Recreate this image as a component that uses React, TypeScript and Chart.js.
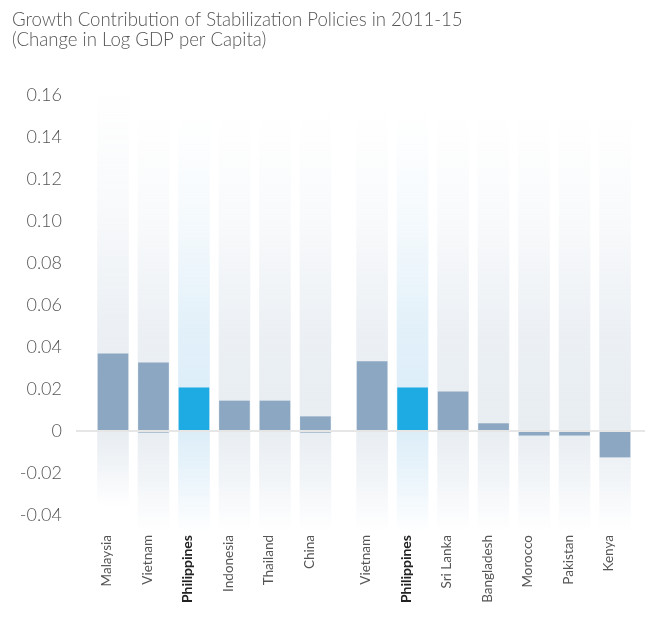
import { useEffect, useRef } from 'react';
import { Chart, registerables } from 'chart.js';

Chart.register(...registerables);

// ---- data ----
const categories = [
  'Malaysia', 'Vietnam', 'Philippines', 'Indonesia', 'Thailand', 'China',
  'Vietnam', 'Philippines', 'Sri Lanka', 'Bangladesh', 'Morocco', 'Pakistan', 'Kenya',
];
const groupOf = [0, 0, 0, 0, 0, 0, 1, 1, 1, 1, 1, 1, 1];
const values = [
  0.0368, 0.0325, 0.0205, 0.0143, 0.0143, 0.0068,
  0.033, 0.0205, 0.0187, 0.0035, -0.002, -0.002, -0.0124,
];
const minorValues = [0, -0.0006, 0, 0, 0, -0.0006, 0, 0, 0, 0, 0, 0, 0];
const bandTop = [0.165, 0.152, 0.152, 0.152, 0.152, 0.152, 0.152, 0.152, 0.152, 0.152, 0.152, 0.152, 0.152];
const bandBottom = [-0.036, -0.048, -0.048, -0.048, -0.048, -0.048, -0.048, -0.048, -0.048, -0.048, -0.048, -0.048, -0.048];
const yMin = -0.04;
const yMax = 0.16;
const yStep = 0.02;
const highlight = 'Philippines';
const titleLines = [
  'Growth Contribution of Stabilization Policies in 2011-15',
  '(Change in Log GDP per Capita)',
];

// ---- layout ----
const GROUP_GAP = 0.4;
const xPos = categories.map((_, i) => i + groupOf[i] * GROUP_GAP);
const X_MIN = -0.914;
const X_MAX = 13.141;

const BAR = '#8ba7c2';
const BAR_HI = '#1eaae2';
const BAND = [232, 237, 242];
const BAND_HI = [220, 237, 248];

const rgba = (c: number[], a: number) => `rgba(${c[0]},${c[1]},${c[2]},${a})`;

export default function App() {
  const ref = useRef<HTMLCanvasElement>(null);

  useEffect(() => {
    document.body.style.margin = '0';
    const canvas = ref.current!;
    const chart = new Chart(canvas, {
      type: 'bar',
      data: {
        datasets: [
          {
            label: 'value',
            data: xPos.map((x, i) => ({ x, y: values[i] })),
            backgroundColor: categories.map((c) => (c === highlight ? BAR_HI : BAR)),
            barThickness: 30,
            grouped: false,
            order: 1,
          } as any,
          {
            label: 'minor',
            data: xPos.map((x, i) => ({ x, y: minorValues[i] })),
            backgroundColor: BAR,
            barThickness: 30,
            grouped: false,
            order: 1,
          } as any,
          {
            label: 'band',
            data: xPos.map((x, i) => ({ x, y: [bandBottom[i], bandTop[i]] })),
            barThickness: 31,
            grouped: false,
            order: 2,
            clip: false,
            backgroundColor: (ctx: any) => {
              const i = ctx.dataIndex;
              const chart = ctx.chart;
              if (i == null || !chart.chartArea) return rgba(BAND, 0.5);
              const col = categories[i] === highlight ? BAND_HI : BAND;
              const ys = chart.scales.y;
              const top = ys.getPixelForValue(bandTop[i]);
              const bot = ys.getPixelForValue(bandBottom[i]);
              const zero = ys.getPixelForValue(0);
              const z = (zero - top) / (bot - top);
              const g = chart.ctx.createLinearGradient(0, top, 0, bot);
              g.addColorStop(0, rgba(col, 0));
              g.addColorStop(z * 0.35, rgba(col, 0.3));
              g.addColorStop(z * 0.7, rgba(col, 0.85));
              g.addColorStop(z, rgba(col, 1));
              g.addColorStop(z + (1 - z) * 0.45, rgba(col, 0.6));
              g.addColorStop(1, rgba(col, 0));
              return g;
            },
          } as any,
        ],
      },
      options: {
        animation: false,
        responsive: false,
        devicePixelRatio: 1,
        layout: { padding: { left: 12, right: 2, top: 0, bottom: 0 } },
        plugins: {
          legend: { display: false },
          tooltip: { enabled: false },
          title: {
            display: true,
            text: titleLines,
            align: 'start',
            color: '#555',
            font: { family: 'Lato', size: 18.6, weight: 300 as any, lineHeight: 20 / 18.6 },
            padding: { top: 9.5, bottom: 45.5 },
          },
        },
        scales: {
          x: {
            type: 'linear',
            offset: false,
            min: X_MIN,
            max: X_MAX,
            grid: { display: false },
            border: { display: false },
            afterBuildTicks: (s: any) => {
              s.ticks = xPos.map((v) => ({ value: v }));
            },
            afterFit: (s: any) => {
              s.height = 112;
            },
            ticks: {
              autoSkip: false,
              minRotation: 90,
              maxRotation: 90,
              padding: 12,
              labelOffset: -6,
              callback: (_v: any, i: number) => categories[i],
              color: (c: any) => (categories[c.index] === highlight ? '#222' : '#555'),
              font: (c: any) =>
                categories[c.index] === highlight
                  ? { family: 'Lato', size: 14, weight: 'bold' }
                  : { family: 'Lato', size: 13.5, weight: 'normal' },
            },
          } as any,
          y: {
            min: yMin,
            max: yMax,
            afterFit: (s: any) => {
              s.width = 64;
            },
            grid: {
              drawTicks: false,
              lineWidth: 2,
              z: 1,
              color: (c: any) => (c.tick && Math.abs(c.tick.value) < 1e-9 ? '#e6e6e6' : 'rgba(0,0,0,0)'),
            },
            border: { display: false },
            ticks: {
              stepSize: yStep,
              padding: 14,
              color: '#555',
              font: { family: 'Lato', size: 18, weight: 300 as any },
              callback: (v: any) => {
                const n = Math.round(Number(v) * 100) / 100;
                return n === 0 ? '0' : n.toFixed(2);
              },
            },
          } as any,
        },
      },
    });
    return () => chart.destroy();
  }, []);

  return (
    <div style={{ width: 647, height: 627, position: 'relative', background: '#fff' }}>
      <canvas ref={ref} width={647} height={627} style={{ display: 'block' }} />
    </div>
  );
}
